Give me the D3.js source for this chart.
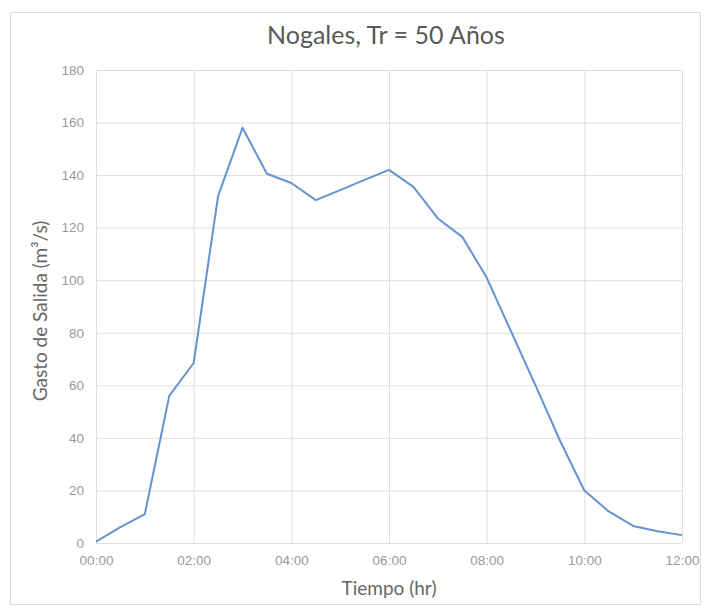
<!DOCTYPE html>
<html>
<head>
<meta charset="utf-8">
<script src="https://cdn.jsdelivr.net/npm/d3@7"></script>
<style>
  html, body { margin: 0; padding: 0; background: #fff; }
  svg { display: block; font-family: Lato, "Open Sans", sans-serif; }
  .grid line { stroke: #dedede; stroke-width: 1; }
  .tick text { fill: #999; font-size: 13.5px; }
</style>
</head>
<body>
<svg id="chart" width="704" height="608"></svg>
<script>
// horas desde 00:00, cada 30 min
const horas = d3.range(0, 12.01, 0.5);
// gasto de salida (m3/s)
const gasto = [0.5, 6, 11, 56, 68.5, 132, 158, 140.5, 137, 130.5, 134.3, 138.2,
               142, 135.5, 123.5, 116.5, 101, 80.5, 60, 39, 20, 12, 6.5, 4.5, 3];
const xTicks = [0, 2, 4, 6, 8, 10, 12];
const yTicks = d3.range(0, 181, 20);

const svg = d3.select("#chart");
const m = { left: 96, right: 682, top: 70, bottom: 543 };

// marco del gráfico
svg.append("rect")
    .attr("x", 10.5).attr("y", 12.5)
    .attr("width", 690).attr("height", 592)
    .attr("fill", "none").attr("stroke", "#d9d9d9");

const x = d3.scaleLinear().domain([0, 12]).range([m.left, m.right]);
const y = d3.scaleLinear().domain([0, 180]).range([m.bottom, m.top]);

const fmt = h => String(h).padStart(2, "0") + ":00";

// rejilla horizontal + etiquetas
svg.append("g")
    .attr("class", "grid")
    .attr("transform", `translate(${m.left},0)`)
    .call(d3.axisLeft(y).tickValues(yTicks).tickSize(-(m.right - m.left)).tickPadding(12))
    .call(g => g.select(".domain").remove())
    .call(g => g.selectAll(".tick line").attr("x1", 0));

// rejilla vertical + etiquetas
svg.append("g")
    .attr("class", "grid")
    .attr("transform", `translate(0,${m.bottom})`)
    .call(d3.axisBottom(x).tickValues(xTicks).tickFormat(fmt).tickSize(-(m.bottom - m.top)).tickPadding(12))
    .call(g => g.select(".domain").remove());

// serie
const line = d3.line()
    .x((d, i) => x(horas[i]))
    .y(d => y(d));

svg.append("path")
    .datum(gasto)
    .attr("d", line)
    .attr("fill", "none")
    .attr("stroke", "#6494cf")
    .attr("stroke-width", 2)
    .attr("stroke-linejoin", "round");

// títulos
svg.append("text")
    .attr("x", 386).attr("y", 44)
    .attr("text-anchor", "middle")
    .attr("font-size", 25)
    .attr("fill", "#595959")
    .text("Nogales, Tr = 50 Años");

svg.append("text")
    .attr("x", 389).attr("y", 595)
    .attr("text-anchor", "middle")
    .attr("font-size", 19)
    .attr("fill", "#666")
    .text("Tiempo (hr)");

svg.append("text")
    .attr("transform", "translate(47,311) rotate(-90)")
    .attr("text-anchor", "middle")
    .attr("font-size", 19)
    .attr("fill", "#666")
    .text("Gasto de Salida (m³/s)");
</script>
</body>
</html>
